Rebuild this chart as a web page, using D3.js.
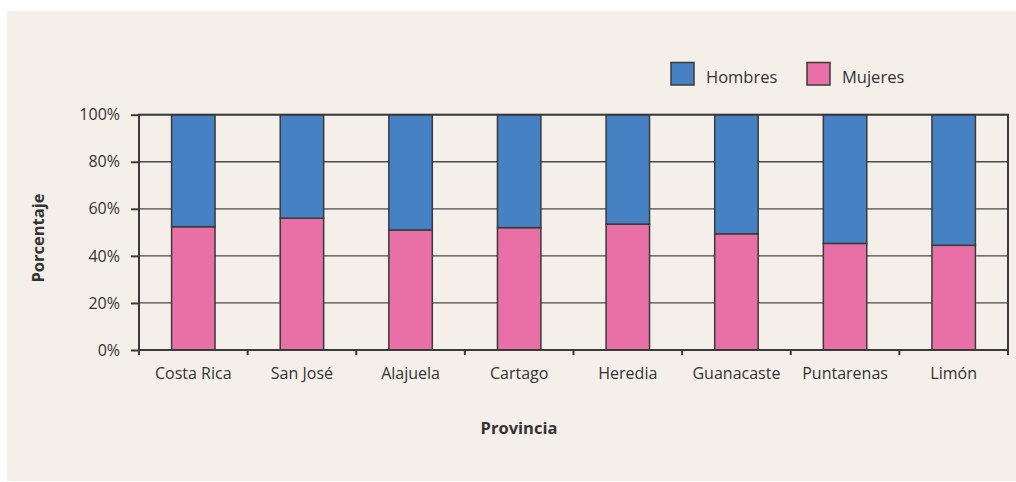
<!DOCTYPE html>
<html>
<head>
<meta charset="utf-8">
<script src="https://cdn.jsdelivr.net/npm/d3@7"></script>
<style>
  body { margin: 0; background: #ffffff; }
  svg text { font-family: "Open Sans", "Noto Sans", sans-serif; fill: #333; }
</style>
</head>
<body>
<svg id="chart" width="1016" height="482"></svg>
<script>
// data
const provincias = ["Costa Rica", "San José", "Alajuela", "Cartago", "Heredia", "Guanacaste", "Puntarenas", "Limón"];
const mujeres = [52.4, 56.0, 51.0, 52.0, 53.5, 49.4, 45.3, 44.5];
const hombres = mujeres.map(m => 100 - m);
const yTicks = [0, 20, 40, 60, 80, 100];
const seriesNames = ["Hombres", "Mujeres"];
const seriesColors = ["#4682c3", "#e970a6"];

const svg = d3.select('#chart');

// beige panel
svg.append('rect')
  .attr('x', 7).attr('y', 11)
  .attr('width', 1009).attr('height', 470)
  .attr('fill', '#f4f0e9');

const margin = { top: 114.7, left: 139, right: 8, bottom: 132 };
const width = 1016 - margin.left - margin.right;
const height = 350 - margin.top;

const g = svg.append('g')
  .attr('transform', `translate(${margin.left}, ${margin.top})`);

const xScale = d3.scaleBand()
  .domain(provincias)
  .range([0, width])
  .padding(0);

const yScale = d3.scaleLinear()
  .domain([0, 100])
  .range([height, 0]);

// grid lines
g.selectAll('.grid')
  .data(yTicks)
  .enter().append('line')
  .attr('class', 'grid')
  .attr('x1', 0).attr('x2', width)
  .attr('y1', d => yScale(d)).attr('y2', d => yScale(d))
  .attr('stroke', '#4a4a4a')
  .attr('stroke-width', 1.3);

// bars
const barW = xScale.bandwidth() * 0.4;
const rows = provincias.map((p, i) => ({ p: p, m: mujeres[i], h: hombres[i] }));

const bars = g.selectAll('.bar')
  .data(rows)
  .enter().append('g')
  .attr('class', 'bar')
  .attr('transform', d => `translate(${xScale(d.p) + (xScale.bandwidth() - barW) / 2}, 0)`);

bars.append('rect')
  .attr('y', d => yScale(d.m))
  .attr('width', barW)
  .attr('height', d => height - yScale(d.m))
  .attr('fill', seriesColors[1])
  .attr('stroke', '#3a3a3a')
  .attr('stroke-width', 1.5);

bars.append('rect')
  .attr('y', d => yScale(100))
  .attr('width', barW)
  .attr('height', d => yScale(d.m) - yScale(100))
  .attr('fill', seriesColors[0])
  .attr('stroke', '#3a3a3a')
  .attr('stroke-width', 1.5);

// plot border
g.append('rect')
  .attr('width', width).attr('height', height)
  .attr('fill', 'none')
  .attr('stroke', '#3a3a3a')
  .attr('stroke-width', 2);

// y axis
const yAxis = d3.axisLeft(yScale)
  .tickValues(yTicks)
  .tickFormat(d => d + '%')
  .tickSize(8)
  .tickPadding(11);
const yG = g.append('g').call(yAxis);
yG.select('.domain').remove();
yG.selectAll('line').attr('stroke', '#3a3a3a').attr('stroke-width', 2);
yG.selectAll('text').attr('font-size', 16).attr('fill', '#333');

// x axis ticks at band boundaries
const bounds = provincias.map(p => xScale(p)).concat([width]);
g.selectAll('.xtick')
  .data(bounds)
  .enter().append('line')
  .attr('x1', d => d).attr('x2', d => d)
  .attr('y1', height).attr('y2', height + 5)
  .attr('stroke', '#3a3a3a')
  .attr('stroke-width', 2);

g.selectAll('.xlabel')
  .data(provincias)
  .enter().append('text')
  .attr('x', d => xScale(d) + xScale.bandwidth() / 2)
  .attr('y', height + 29)
  .attr('text-anchor', 'middle')
  .attr('font-size', 16)
  .text(d => d);

// axis titles
svg.append('text')
  .attr('x', 519).attr('y', 434)
  .attr('text-anchor', 'middle')
  .attr('font-size', 16.5)
  .attr('font-weight', 'bold')
  .text('Provincia');

svg.append('text')
  .attr('transform', 'translate(44, 238) rotate(-90)')
  .attr('text-anchor', 'middle')
  .attr('font-size', 16.5)
  .attr('font-weight', 'bold')
  .text('Porcentaje');

// legend
const legend = svg.append('g')
  .attr('transform', 'translate(671, 62.5)');

const legendX = [0, 136];
const items = legend.selectAll('.legend-entry')
  .data(seriesNames)
  .enter().append('g')
  .attr('class', 'legend-entry')
  .attr('transform', (d, i) => `translate(${legendX[i]}, 0)`);

items.append('rect')
  .attr('width', 23).attr('height', 22.5)
  .attr('fill', (d, i) => seriesColors[i])
  .attr('stroke', '#3a3a3a')
  .attr('stroke-width', 1.5);

items.append('text')
  .attr('x', 35).attr('y', 20)
  .attr('font-size', 16.5)
  .text(d => d);
</script>
</body>
</html>
